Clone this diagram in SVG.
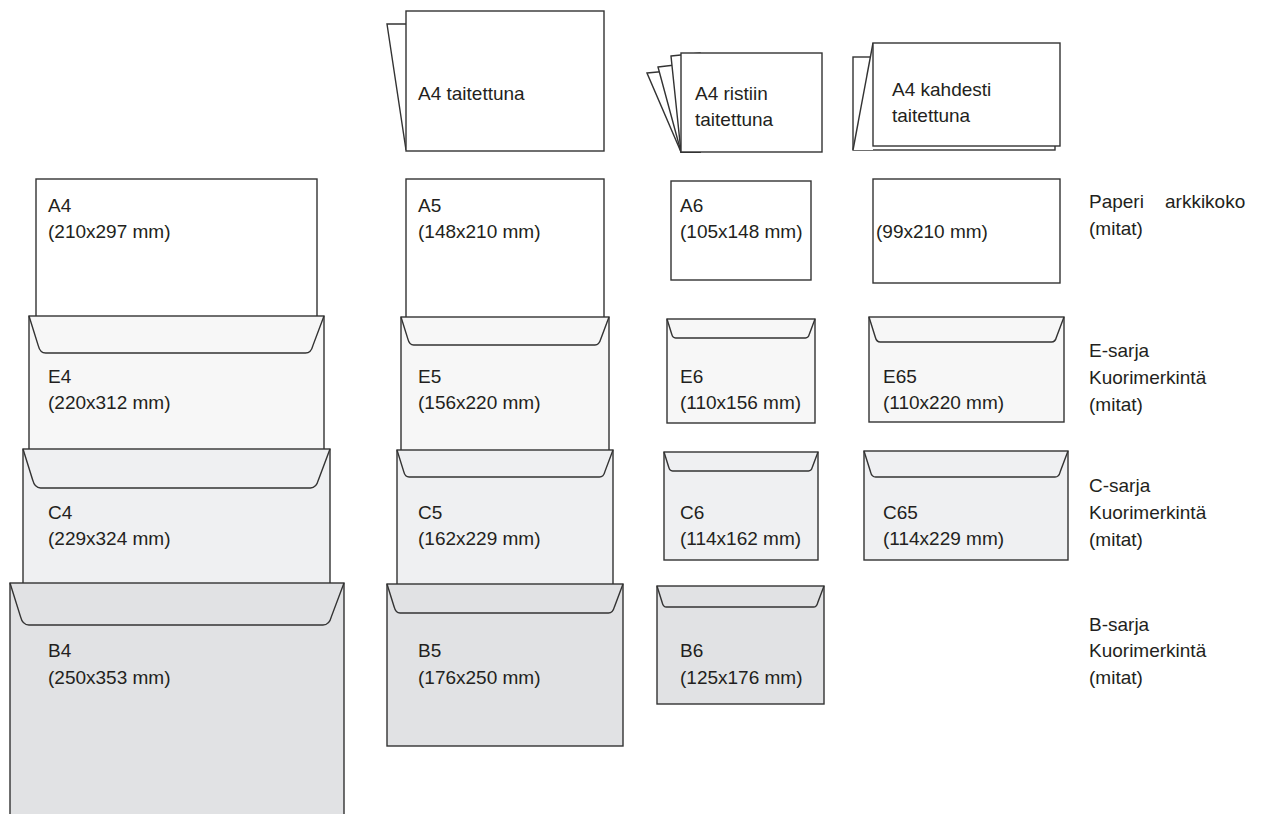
<svg xmlns="http://www.w3.org/2000/svg" width="1274" height="814" viewBox="0 0 1274 814">
<style>
text{font-family:"Liberation Sans",Arial,sans-serif;font-size:19px;fill:#231f20}
.s{stroke:#333;stroke-width:1.4;fill:#fff}
.l{stroke:#333;stroke-width:1.4;fill:none}
.a{stroke:#333;stroke-width:1.4;fill:#fff}
.e{stroke:#333;stroke-width:1.4;fill:#f7f7f7}
.c{stroke:#333;stroke-width:1.4;fill:#eff0f2}
.b{stroke:#333;stroke-width:1.4;fill:#e1e2e4}
</style>
<rect width="1274" height="814" fill="#fff"/>

<g id="fold-a4-taitettuna">
<polyline class="s" points="406,24 387,24 406,150"/>
<rect class="s" x="406" y="11" width="198" height="140"/>
<text x="418" y="100">A4 taitettuna</text>
</g>

<g id="fold-a4-ristiin">
<polygon class="s" points="647,73 700,68 700,152 681,152"/>
<polygon class="s" points="658,67 700,62 700,152 681,152"/>
<polygon class="s" points="671,56 700,53 700,152 681,152"/>
<rect class="s" x="681" y="53" width="141" height="99"/>
<text x="695" y="100">A4 ristiin</text>
<text x="695" y="126">taitettuna</text>
</g>

<g id="fold-a4-kahdesti">
<rect class="s" x="853" y="57" width="202" height="93"/>
<polygon fill="#fff" stroke="none" points="873,43 853,150 873,150"/>
<line class="l" x1="873" y1="43" x2="853" y2="150"/>
<rect class="s" x="873" y="43" width="187" height="103"/>
<text x="892" y="96">A4 kahdesti</text>
<text x="892" y="122">taitettuna</text>
</g>

<g id="col1">
<g id="A4"><rect class="a" x="36" y="179" width="281" height="145"/>
<text x="48" y="212">A4</text><text x="48" y="238">(210x297 mm)</text></g>
<g id="E4"><rect class="e" x="29" y="316" width="295" height="140"/>
<path class="l" d="M29,316 L38.25,345.6 Q40.1,353 45.65,353 H305.5 Q311.05,353 312.9,345.6 L324,316"/>
<text x="48" y="383">E4</text><text x="48" y="409">(220x312 mm)</text></g>
<g id="C4"><rect class="c" x="23" y="449" width="307" height="140"/>
<path class="l" d="M23,449 L32.75,480.2 Q34.7,488 40.55,488 H310.5 Q316.35,488 318.3,480.2 L330,449"/>
<text x="48" y="519">C4</text><text x="48" y="545">(229x324 mm)</text></g>
<g id="B4"><rect class="b" x="10" y="583" width="334" height="250"/>
<path class="l" d="M10,583 L20.5,616.6 Q22.6,625 28.9,625 H323 Q329.3,625 331.4,616.6 L344,583"/>
<text x="48" y="657">B4</text><text x="48" y="684">(250x353 mm)</text></g>
</g>

<g id="col2">
<g id="A5"><rect class="a" x="406" y="179" width="198" height="145"/>
<text x="418" y="212">A5</text><text x="418" y="238">(148x210 mm)</text></g>
<g id="E5"><rect class="e" x="401" y="317" width="208" height="140"/>
<path class="l" d="M401,317 L408,339.4 Q409.4,345 413.6,345 H595 Q599.2,345 600.6,339.4 L609,317"/>
<text x="418" y="383">E5</text><text x="418" y="409">(156x220 mm)</text></g>
<g id="C5"><rect class="c" x="397" y="450" width="216" height="140"/>
<path class="l" d="M397,450 L403.75,471.6 Q405.1,477 409.15,477 H599.5 Q603.55,477 604.9,471.6 L613,450"/>
<text x="418" y="519">C5</text><text x="418" y="545">(162x229 mm)</text></g>
<g id="B5"><rect class="b" x="387" y="584" width="236" height="162"/>
<path class="l" d="M387,584 L394.25,607.2 Q395.7,613 400.05,613 H608.5 Q612.85,613 614.3,607.2 L623,584"/>
<text x="418" y="657">B5</text><text x="418" y="684">(176x250 mm)</text></g>
</g>

<g id="col3">
<g id="A6"><rect class="a" x="671" y="181" width="140" height="99"/>
<text x="680" y="212">A6</text><text x="680" y="238">(105x148 mm)</text></g>
<g id="E6"><rect class="e" x="667" y="319" width="148" height="104"/>
<path class="l" d="M667,319 L671.75,334.2 Q672.7,338 675.55,338 H805.5 Q808.35,338 809.3,334.2 L815,319"/>
<text x="680" y="383">E6</text><text x="680" y="409">(110x156 mm)</text></g>
<g id="C6"><rect class="c" x="664" y="452" width="154" height="108"/>
<path class="l" d="M664,452 L668.75,467.2 Q669.7,471 672.55,471 H808.5 Q811.35,471 812.3,467.2 L818,452"/>
<text x="680" y="519">C6</text><text x="680" y="545">(114x162 mm)</text></g>
<g id="B6"><rect class="b" x="657" y="586" width="167" height="118"/>
<path class="l" d="M657,586 L662.25,602.8 Q663.3,607 666.45,607 H813.5 Q816.65,607 817.7,602.8 L824,586"/>
<text x="680" y="657">B6</text><text x="680" y="684">(125x176 mm)</text></g>
</g>

<g id="col4">
<g id="A-99x210"><rect class="a" x="873" y="179" width="187" height="104"/>
<text x="876" y="238">(99x210 mm)</text></g>
<g id="E65"><rect class="e" x="869" y="317" width="195" height="105"/>
<path class="l" d="M869,317 L875.25,337 Q876.5,342 880.25,342 H1051.5 Q1055.25,342 1056.5,337 L1064,317"/>
<text x="883" y="383">E65</text><text x="883" y="409">(110x220 mm)</text></g>
<g id="C65"><rect class="c" x="864" y="451" width="204" height="109"/>
<path class="l" d="M864,451 L870.5,471.8 Q871.8,477 875.7,477 H1055 Q1058.9,477 1060.2,471.8 L1068,451"/>
<text x="883" y="519">C65</text><text x="883" y="545">(114x229 mm)</text></g>
</g>

<g id="labels">
<text x="1089" y="208">Paperi</text><text x="1165" y="208">arkkikoko</text>
<text x="1089" y="235">(mitat)</text>
<text x="1089" y="357">E-sarja</text><text x="1089" y="384">Kuorimerkintä</text><text x="1089" y="411">(mitat)</text>
<text x="1089" y="492">C-sarja</text><text x="1089" y="519">Kuorimerkintä</text><text x="1089" y="546">(mitat)</text>
<text x="1089" y="631">B-sarja</text><text x="1089" y="657">Kuorimerkintä</text><text x="1089" y="684">(mitat)</text>
</g>
<g id="connectors"/>
</svg>
